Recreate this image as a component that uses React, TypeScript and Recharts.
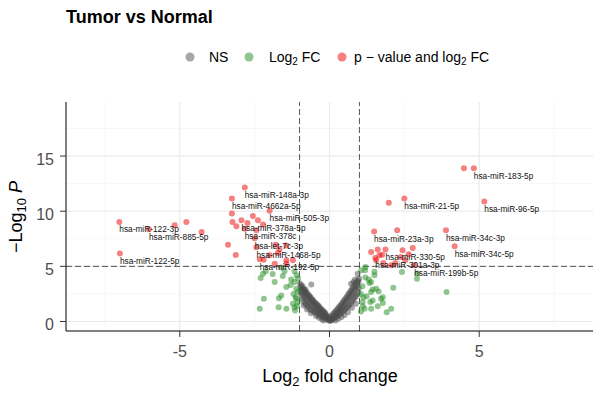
import { ScatterChart, Scatter, XAxis, YAxis, CartesianGrid, ReferenceLine } from "recharts"

const FONT = "'Liberation Sans', Arial, sans-serif"

// [log2FC, -log10 p]
// not significant
const nsPoints: [number, number][] = [
  [-0.99, 3.45], [-0.97, 3.05], [-0.96, 2.6], [-0.95, 2.85], [-0.93, 2.35], [-0.92, 3.1], [-0.9, 2.1],
  [-0.89, 2.6], [-0.87, 1.85], [-0.86, 2.4], [-0.85, 2.9], [-0.83, 1.7], [-0.82, 2.2], [-0.8, 2.6],
  [-0.79, 1.55], [-0.77, 2.0], [-0.76, 2.4], [-0.74, 1.4], [-0.72, 1.8], [-0.71, 2.2], [-0.69, 1.25],
  [-0.67, 1.65], [-0.66, 2.0], [-0.64, 1.1], [-0.62, 1.5], [-0.61, 3.36], [-0.6, 1.85], [-0.58, 1.0],
  [-0.56, 1.35], [-0.55, 1.7], [-0.53, 0.9], [-0.51, 1.2], [-0.5, 1.55], [-0.48, 0.8], [-0.46, 1.1],
  [-0.44, 1.4], [-0.42, 0.7], [-0.4, 0.95], [-0.38, 1.25], [-0.36, 0.6], [-0.34, 0.85], [-0.32, 1.1],
  [-0.3, 0.5], [-0.28, 0.75], [-0.26, 0.95], [-0.24, 0.42], [-0.22, 0.62], [-0.2, 0.8], [-0.18, 0.35],
  [-0.16, 0.52], [-0.14, 0.68], [-0.12, 0.28], [-0.1, 0.42], [-0.08, 0.2], [-0.06, 0.32], [-0.04, 0.12],
  [-0.02, 0.22], [0, 0.06], [0.02, 0.15], [0.04, 0.08], [0.06, 0.25], [0.08, 0.14], [0.1, 0.35],
  [0.12, 0.22], [0.14, 0.45], [0.16, 0.3], [0.18, 0.55], [0.2, 0.38], [0.22, 0.68], [0.24, 0.45],
  [0.26, 0.8], [0.28, 0.55], [0.3, 0.92], [0.32, 0.62], [0.34, 1.05], [0.36, 0.72], [0.38, 1.2],
  [0.4, 0.8], [0.42, 1.32], [0.44, 0.9], [0.46, 1.45], [0.48, 1.0], [0.5, 1.6], [0.52, 1.1],
  [0.54, 1.75], [0.56, 1.2], [0.58, 1.9], [0.6, 1.3], [0.62, 2.05], [0.64, 1.42], [0.66, 2.2],
  [0.68, 1.55], [0.7, 2.35], [0.72, 1.7], [0.72, 3.43], [0.74, 2.5], [0.76, 1.85], [0.78, 2.65],
  [0.8, 2.0], [0.8, 3.58], [0.82, 2.8], [0.84, 2.15], [0.86, 2.95], [0.88, 2.3], [0.9, 3.1],
  [0.92, 2.45], [0.94, 4.33], [0.94, 3.25], [0.96, 2.6], [0.98, 3.0], [0.97, 3.6],
  [-0.95, 3.3], [-0.9, 3.2], [-0.88, 2.95], [-0.84, 2.75], [-0.8, 2.9], [-0.78, 2.7], [-0.75, 2.55],
  [-0.7, 2.45], [-0.68, 2.3], [-0.65, 2.25], [-0.62, 2.15], [-0.58, 2.0], [-0.55, 1.95], [-0.52, 1.8],
  [-0.48, 1.7], [-0.45, 1.6], [-0.42, 1.55], [-0.38, 1.45], [-0.35, 1.35], [-0.3, 1.2], [-0.27, 1.1],
  [-0.23, 1.0], [-0.19, 0.9], [-0.15, 0.8], [-0.11, 0.6], [-0.07, 0.5], [-0.03, 0.35],
  [0.03, 0.35], [0.07, 0.5], [0.11, 0.65], [0.15, 0.75], [0.19, 0.9], [0.23, 1.0], [0.27, 1.15],
  [0.31, 1.3], [0.35, 1.4], [0.39, 1.55], [0.43, 1.7], [0.47, 1.85], [0.51, 2.0], [0.55, 2.15],
  [0.59, 2.3], [0.63, 2.5], [0.67, 2.6], [0.71, 2.8], [0.75, 2.95], [0.79, 3.1], [0.83, 3.3],
  [0.87, 3.45], [0.91, 3.55], [0.95, 3.75], [0.99, 3.9], [0.85, 3.8],
  [-0.25, 0.2], [-0.2, 0.1], [0.2, 0.1], [0.3, 0.25], [-0.35, 0.35], [0.4, 0.4], [0.5, 0.6], [-0.45, 0.5],
  [-0.62, 0.75], [0.62, 0.85], [-0.75, 1.1], [0.75, 1.25], [-0.86, 1.45], [0.88, 1.6],
]

// |log2FC| > 1 only
const fcPoints: [number, number][] = [
  [-2.22, 4.33], [-2.3, 3.94], [-2.13, 4.55], [-1.83, 3.58], [-1.56, 4.12], [-1.5, 4.55], [-1.28, 3.82],
  [-1.17, 3.58], [-1.44, 3.12], [-1.11, 2.97], [-1.61, 2.36], [-1.69, 2.12], [-2.19, 2.06], [-2.33, 1.15],
  [-1.7, 1.3], [-1.44, 1.15], [-1.17, 1.3], [-1.22, 1.6], [-1.06, 1.76], [-1.13, 2.2], [-1.06, 2.7],
  [-1.11, 2.06], [-1.62, 4.9], [-1.9, 4.3], [-1.2, 2.5], [-1.05, 3.9], [-1.08, 1.4], [-1.15, 1.0],
  [-1.3, 3.3], [-1.17, 4.55], [-1.1, 4.2],
  [1.06, 4.64], [1.19, 4.64], [1.31, 3.82], [1.39, 3.58], [1.56, 2.97], [1.44, 2.91], [1.64, 2.73],
  [1.39, 2.67], [1.24, 2.3], [1.13, 2.2], [1.36, 1.76], [1.44, 1.91], [1.72, 2.06], [1.78, 1.67],
  [1.61, 1.39], [1.39, 1.15], [1.91, 0.85], [2.06, 1.15], [2.13, 3.06], [2.42, 4.48], [3.91, 2.67],
  [1.11, 1.39], [1.2, 4.0], [1.33, 3.5], [1.78, 2.21], [1.11, 1.76], [1.17, 1.15], [1.05, 0.9],
  [2.92, 3.88], [2.93, 4.36], [1.2, 4.95], [1.5, 4.2], [1.1, 3.2], [1.05, 2.5], [1.5, 4.5],
]

// p-value and log2FC, not labelled
const sigPoints: [number, number][] = [
  [-5.17, 8.73], [-4.78, 9.03], [-4.27, 8.12], [-3.39, 6.97], [-3.13, 6.03], [-3.26, 9.79], [-3.24, 9.03],
  [-3.11, 8.64], [-2.74, 8.94], [-2.56, 9.57], [-2.39, 9.18], [-2.22, 8.79], [-2.44, 8.27], [-1.8, 6.97],
  [-1.67, 6.55], [-1.72, 6.2], [-1.44, 6.9], [-1.22, 5.55], [-1.44, 5.55], [-2.2, 5.6], [-1.83, 5.24],
  [-1.44, 5.24], [-2.0, 6.0],
  [4.49, 13.9], [1.98, 10.76], [2.26, 8.27], [1.39, 6.3], [1.61, 6.52], [1.67, 6.0], [1.76, 6.06],
  [2.44, 6.45], [2.78, 6.67], [2.64, 6.09], [2.53, 5.55], [2.38, 5.85], [2.06, 5.09], [1.56, 5.55],
  [1.8, 5.3], [2.2, 5.3],
]

const labelled = [
  { name: "hsa-miR-122-3p", x: -7.02, y: 9.03 },
  { name: "hsa-miR-885-5p", x: -6.03, y: 8.36 },
  { name: "hsa-miR-122-5p", x: -7.0, y: 6.17 },
  { name: "hsa-miR-148a-3p", x: -2.83, y: 12.15 },
  { name: "hsa-miR-4662a-5p", x: -3.26, y: 11.15 },
  { name: "hsa-miR-505-3p", x: -2.0, y: 10.05 },
  { name: "hsa-miR-378a-5p", x: -2.94, y: 9.18 },
  { name: "hsa-miR-378c", x: -2.83, y: 8.4 },
  { name: "hsa-let-7c-3p", x: -2.5, y: 7.55 },
  { name: "hsa-miR-1468-5p", x: -2.44, y: 6.73 },
  { name: "hsa-miR-192-5p", x: -2.33, y: 5.65 },
  { name: "hsa-miR-183-5p", x: 4.82, y: 13.9 },
  { name: "hsa-miR-96-5p", x: 5.17, y: 10.88 },
  { name: "hsa-miR-21-5p", x: 2.5, y: 11.15 },
  { name: "hsa-miR-34c-3p", x: 3.89, y: 8.27 },
  { name: "hsa-miR-34c-5p", x: 4.18, y: 6.82 },
  { name: "hsa-miR-23a-3p", x: 1.49, y: 8.15 },
  { name: "hsa-miR-330-5p", x: 1.87, y: 6.52 },
  { name: "hsa-miR-301a-3p", x: 1.53, y: 5.76 },
  { name: "hsa-miR-199b-5p", x: 2.83, y: 5.1 },
]

const xTicks = [-5, 0, 5]
const yTicks = [0, 5, 10, 15]
const xMinor = [-7.5, -2.5, 2.5, 7.5]
const yMinor = [2.5, 7.5, 12.5, 17.5]
const fcCutoff = 1
const pCutoff = 5

const toObj = (arr: [number, number][]) => arr.map(([x, y]) => ({ x, y }))
const sigAll = [...toObj(sigPoints), ...labelled.map((d) => ({ x: d.x, y: d.y }))]

const dot = (color: string) => (props: any) => (
  <circle cx={props.cx} cy={props.cy} r={3} fill={color} fillOpacity={0.5} />
)

const labelShape = (props: any) => (
  <text x={props.cx} y={props.cy + 10.5} fontSize={8.3} fill="#111" fontFamily={FONT}>
    {props.payload.name}
  </text>
)

const yTick = (props: any) => (
  <text x={props.x} y={props.y + 3} dy="0.355em" textAnchor="end" fontSize={16} fill="#4d4d4d" fontFamily={FONT}>
    {props.payload.value}
  </text>
)

export default function App() {
  return (
    <div style={{ position: "absolute", left: 0, top: 0, width: 600, height: 393, background: "#fff" }}>
      <ScatterChart
        width={600}
        height={393}
        margin={{ top: 102, right: 7, bottom: 32, left: 26 }}
        style={{ fontFamily: FONT }}
      >
        <CartesianGrid stroke="#f3f3f3" strokeWidth={0.7} horizontalValues={yMinor} verticalValues={xMinor} />
        <CartesianGrid stroke="#ebebeb" strokeWidth={1.2} horizontalValues={yTicks} verticalValues={xTicks} />
        <XAxis
          type="number"
          dataKey="x"
          domain={[-8.8, 8.8]}
          ticks={xTicks}
          allowDataOverflow
          height={30}
          tickSize={6}
          tickMargin={9}
          tick={{ fill: "#4d4d4d", fontSize: 16 }}
          tickLine={{ stroke: "#333" }}
          axisLine={{ stroke: "#000" }}
        />
        <YAxis
          type="number"
          dataKey="y"
          domain={[-0.86, 19.9]}
          ticks={yTicks}
          allowDataOverflow
          width={40}
          tickSize={6}
          tickMargin={6}
          tick={yTick}
          tickLine={{ stroke: "#333" }}
          axisLine={{ stroke: "#000" }}
        />
        <ReferenceLine x={-fcCutoff} stroke="#444" strokeDasharray="6 3" strokeWidth={0.9} />
        <ReferenceLine x={fcCutoff} stroke="#444" strokeDasharray="6 3" strokeWidth={0.9} />
        <ReferenceLine y={pCutoff} stroke="#444" strokeDasharray="6 3" strokeWidth={0.9} />
        <Scatter data={toObj(nsPoints)} shape={dot("#4d4d4d")} isAnimationActive={false} />
        <Scatter data={toObj(fcPoints)} shape={dot("#228b22")} isAnimationActive={false} />
        <Scatter data={sigAll} shape={dot("#ee0000")} isAnimationActive={false} />
        <Scatter data={labelled} shape={labelShape} isAnimationActive={false} />
      </ScatterChart>
      <svg
        width={600}
        height={393}
        style={{ position: "absolute", left: 0, top: 0, pointerEvents: "none", fontFamily: FONT }}
      >
        <text x={66} y={23} fontSize={18} fontWeight="bold" fill="#000">
          Tumor vs Normal
        </text>
        <circle cx={190} cy={57} r={4.5} fill="#4d4d4d" fillOpacity={0.5} />
        <text x={209} y={62} fontSize={14} fill="#000">NS</text>
        <circle cx={249} cy={57} r={4.5} fill="#228b22" fillOpacity={0.5} />
        <text x={269} y={62} fontSize={14} fill="#000">
          Log<tspan fontSize={10} dy={3}>2</tspan><tspan dy={-3}> FC</tspan>
        </text>
        <circle cx={342} cy={57} r={4.5} fill="#ee0000" fillOpacity={0.5} />
        <text x={354} y={62} fontSize={14} fill="#000">
          p − value and log<tspan fontSize={10} dy={3}>2</tspan><tspan dy={-3}> FC</tspan>
        </text>
        <text x={330} y={382} fontSize={18} fill="#000" textAnchor="middle">
          Log<tspan fontSize={13} dy={4}>2</tspan><tspan dy={-4}> fold change</tspan>
        </text>
        <text x={22} y={217} fontSize={18} fill="#000" textAnchor="middle" transform="rotate(-90 22 217)">
          −Log<tspan fontSize={13} dy={4}>10</tspan><tspan dy={-4}> </tspan><tspan fontStyle="italic">P</tspan>
        </text>
      </svg>
    </div>
  )
}
